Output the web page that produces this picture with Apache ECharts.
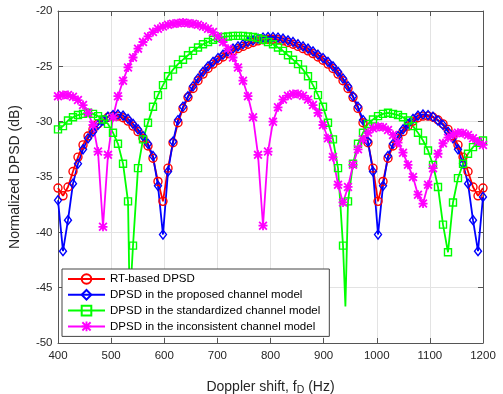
<!DOCTYPE html>
<html>
<head>
<meta charset="utf-8">
<title>Normalized DPSD</title>
<script src="https://cdn.jsdelivr.net/npm/echarts@6/dist/echarts.min.js"></script>
<style>
  html, body { margin: 0; padding: 0; background: #ffffff; }
  #chart { width: 503px; height: 394px; }
</style>
</head>
<body>
<div id="chart"></div>
<script>
// Doppler power spectral density comparison, one 86-point frequency grid shared by all curves.

const freqHz = [
  400.0, 409.4, 418.8, 428.2, 437.6, 447.1, 456.5, 465.9, 475.3, 484.7,
  494.1, 503.5, 512.9, 522.4, 531.8, 541.2, 550.6, 560.0, 569.4, 578.8,
  588.2, 597.6, 607.1, 616.5, 625.9, 635.3, 644.7, 654.1, 663.5, 672.9,
  682.4, 691.8, 701.2, 710.6, 720.0, 729.4, 738.8, 748.2, 757.6, 767.1,
  776.5, 785.9, 795.3, 804.7, 814.1, 823.5, 832.9, 842.4, 851.8, 861.2,
  870.6, 880.0, 889.4, 898.8, 908.2, 917.6, 927.1, 936.5, 945.9, 955.3,
  964.7, 974.1, 983.5, 992.9, 1002.4, 1011.8, 1021.2, 1030.6, 1040.0, 1049.4,
  1058.8, 1068.2, 1077.6, 1087.1, 1096.5, 1105.9, 1115.3, 1124.7, 1134.1, 1143.5,
  1152.9, 1162.4, 1171.8, 1181.2, 1190.6, 1200.0
];

const rtBasedDb = [
  -36.0, -36.7, -35.9, -34.5, -33.2, -32.1, -31.3, -30.7, -30.2, -29.85,
  -29.6, -29.5, -29.5, -29.65, -29.95, -30.4, -30.9, -31.5, -32.2, -33.3,
  -35.4, -37.2, -34.2, -31.9, -30.1, -28.8, -27.8, -27.0, -26.3, -25.7,
  -25.2, -24.8, -24.45, -24.15, -23.85, -23.6, -23.4, -23.2, -23.0, -22.85,
  -22.7, -22.6, -22.55, -22.55, -22.6, -22.7, -22.85, -23.0, -23.2, -23.4,
  -23.6, -23.85, -24.15, -24.45, -24.8, -25.2, -25.7, -26.3, -27.0, -27.8,
  -28.8, -30.1, -31.9, -34.2, -37.2, -35.4, -33.3, -32.2, -31.5, -30.9,
  -30.4, -29.95, -29.65, -29.5, -29.5, -29.6, -29.85, -30.2, -30.7, -31.3,
  -32.1, -33.2, -34.5, -35.9, -36.7, -36.0
];

const proposedDb = [
  -37.1, -41.7, -38.9, -35.6, -33.8, -32.5, -31.5, -30.9, -30.3, -29.9,
  -29.55, -29.4, -29.35, -29.45, -29.75, -30.2, -30.7, -31.3, -32.0, -33.1,
  -35.8, -40.2, -34.5, -31.8, -29.85, -28.65, -27.7, -26.8, -26.1, -25.5,
  -25.0, -24.6, -24.25, -23.95, -23.65, -23.4, -23.2, -23.0, -22.8, -22.65,
  -22.5, -22.4, -22.35, -22.35, -22.4, -22.5, -22.65, -22.8, -23.0, -23.2,
  -23.4, -23.65, -23.95, -24.25, -24.6, -25.0, -25.5, -26.1, -26.8, -27.7,
  -28.65, -29.85, -31.8, -34.5, -40.2, -35.8, -33.1, -32.0, -31.3, -30.7,
  -30.2, -29.75, -29.45, -29.35, -29.4, -29.55, -29.9, -30.3, -30.9, -31.5,
  -32.5, -33.8, -35.6, -38.9, -41.7, -36.8
];

const standardizedDb = [
  -30.7, -30.4, -29.9, -29.6, -29.4, -29.3, -29.2, -29.3, -29.5, -29.8,
  -30.2, -31.0, -32.0, -33.8, -37.2, -41.2, -34.2, -31.6, -30.1, -28.65,
  -27.6, -26.7, -25.9, -25.3, -24.8, -24.4, -24.0, -23.6, -23.3, -23.0,
  -22.8, -22.6, -22.45, -22.35, -22.3, -22.25, -22.25, -22.25, -22.3, -22.35,
  -22.45, -22.6, -22.8, -23.0, -23.3, -23.6, -24.0, -24.4, -24.8, -25.3,
  -25.9, -26.7, -27.6, -28.65, -30.1, -31.6, -34.2, -41.2, -37.2, -33.8,
  -32.0, -31.0, -30.2, -29.8, -29.5, -29.3, -29.2, -29.3, -29.4, -29.6,
  -29.9, -30.4, -31.0, -31.7, -32.6, -33.9, -35.9, -39.3, -41.8, -37.3,
  -35.1, -33.8, -32.9, -32.3, -31.9, -31.7
];

// deep nulls of the standardized curve that carry no marker
const standardizedNullHz = [535, 941];
const standardizedNullDb = [-46.5, -46.7];

const inconsistentDb = [
  -27.7, -27.6, -27.6, -27.75, -28.05, -28.5, -29.2, -30.3, -32.7, -39.5,
  -33.0, -29.6, -27.7, -26.3, -25.1, -24.2, -23.4, -22.8, -22.3, -21.9,
  -21.6, -21.4, -21.25, -21.15, -21.1, -21.05, -21.1, -21.15, -21.25, -21.4,
  -21.6, -21.9, -22.3, -22.8, -23.4, -24.2, -25.1, -26.3, -27.7, -29.6,
  -33.0, -39.4, -32.7, -30.0, -28.7, -28.0, -27.65, -27.5, -27.5, -27.65,
  -28.0, -28.5, -29.2, -30.3, -31.5, -33.2, -35.7, -37.3, -35.9, -33.9,
  -32.5, -31.6, -31.0, -30.6, -30.45, -30.5, -30.75, -31.2, -31.9, -32.8,
  -33.9, -35.0, -36.6, -37.4, -35.7, -34.2, -32.9, -31.95, -31.45, -31.15,
  -31.0, -31.05, -31.2, -31.5, -31.8, -32.1
];

const seriesNames = [
  "RT-based DPSD",
  "DPSD in the proposed channel model",
  "DPSD in the standardized channel model",
  "DPSD in the inconsistent channel model"
];

const FONT = '"Liberation Sans", Arial, Helvetica, sans-serif';
const TEXT_COLOR = "#262626";
const FRAME_COLOR = "#555555";
const GRID_COLOR = "#e3e3e3";
const ASTERISK =
  "path://M4 0H6V10H4Z M0 4H10V6H0Z M1.4 0L10 8.6L8.6 10L0 1.4Z M8.6 0L10 1.4L1.4 10L0 8.6Z";

function pairs(xs, ys) {
  return xs.map((x, i) => [x, ys[i]]);
}

function withHiddenNulls(xs, ys, nullXs, nullYs) {
  const points = pairs(xs, ys).map((p) => ({ value: p }));
  nullXs.forEach((x, i) => {
    points.push({ value: [x, nullYs[i]], symbol: "none" });
  });
  return points.sort((a, b) => a.value[0] - b.value[0]);
}

function frameAxis(position, extra) {
  return Object.assign({
    type: "value",
    position: position,
    axisLine: { show: true, onZero: false, lineStyle: { color: FRAME_COLOR, width: 1 } },
    axisTick: { show: true, inside: true, length: 5, lineStyle: { color: FRAME_COLOR, width: 1 } },
    axisLabel: { show: false },
    splitLine: { show: false }
  }, extra);
}

function lineSeries(name, data, color, symbol, symbolSize, filled) {
  return {
    name: name,
    type: "line",
    data: data,
    symbol: symbol,
    symbolSize: symbolSize,
    showAllSymbol: true,
    smooth: false,
    clip: true,
    lineStyle: { color: color, width: 1.8 },
    itemStyle: filled
      ? { color: color, borderWidth: 0 }
      : { color: "rgba(255,255,255,0)", borderColor: color, borderWidth: 1.4 },
    emphasis: { disabled: true }
  };
}

const chart = echarts.init(document.getElementById("chart"), null, { renderer: "canvas" });

chart.setOption({
  animation: false,
  backgroundColor: "#ffffff",
  textStyle: { fontFamily: FONT },
  grid: {
    left: 58,
    right: 20,
    top: 11,
    bottom: 51,
    containLabel: false,
    outerBoundsMode: "none"
  },
  legend: {
    orient: "vertical",
    left: 62,
    top: 269,
    data: seriesNames,
    itemWidth: 37,
    itemHeight: 12,
    itemGap: 3.8,
    padding: [4, 9, 4, 5],
    backgroundColor: "#ffffff",
    borderColor: "#444444",
    borderWidth: 1,
    borderRadius: 0,
    selectedMode: false,
    textStyle: { color: "#000000", fontSize: 11.5, fontFamily: FONT, lineHeight: 12 }
  },
  xAxis: [
    frameAxis("bottom", {
      min: 400,
      max: 1200,
      interval: 100,
      name: "{m|Doppler shift, f}{sub|D}{m| (Hz)}",
      nameLocation: "middle",
      nameGap: 37,
      nameTextStyle: {
        color: TEXT_COLOR,
        fontFamily: FONT,
        fontSize: 14,
        rich: {
          m: { fontSize: 14, fontFamily: FONT, color: TEXT_COLOR, lineHeight: 16, verticalAlign: "top" },
          sub: { fontSize: 10.5, fontFamily: FONT, color: TEXT_COLOR, lineHeight: 16, verticalAlign: "top", padding: [5, 0, 0, 0] }
        }
      },
      axisLabel: {
        show: true,
        color: TEXT_COLOR,
        fontSize: 11.5,
        fontFamily: FONT,
        margin: 7,
        formatter: (value) => String(value)
      },
      splitLine: { show: true, lineStyle: { color: GRID_COLOR, width: 1 } }
    }),
    frameAxis("top", { min: 400, max: 1200, interval: 100 })
  ],
  yAxis: [
    frameAxis("left", {
      min: -50,
      max: -20,
      interval: 5,
      name: "Normalized DPSD (dB)",
      nameLocation: "middle",
      nameGap: 36,
      nameTextStyle: { color: TEXT_COLOR, fontFamily: FONT, fontSize: 14 },
      axisLabel: {
        show: true,
        color: TEXT_COLOR,
        fontSize: 11.5,
        fontFamily: FONT,
        margin: 5.5,
        formatter: (value) => String(value)
      },
      splitLine: { show: true, lineStyle: { color: GRID_COLOR, width: 1 } }
    }),
    frameAxis("right", { min: -50, max: -20, interval: 5 })
  ],
  series: [
    lineSeries(seriesNames[0], pairs(freqHz, rtBasedDb), "#ff0000", "circle", 8, false),
    lineSeries(seriesNames[1], pairs(freqHz, proposedDb), "#0000ff", "diamond", [7, 9], false),
    lineSeries(seriesNames[2],
      withHiddenNulls(freqHz, standardizedDb, standardizedNullHz, standardizedNullDb),
      "#00ff00", "rect", 7, false),
    lineSeries(seriesNames[3], pairs(freqHz, inconsistentDb), "#ff00ff", ASTERISK, 9, true)
  ]
});
</script>
</body>
</html>
